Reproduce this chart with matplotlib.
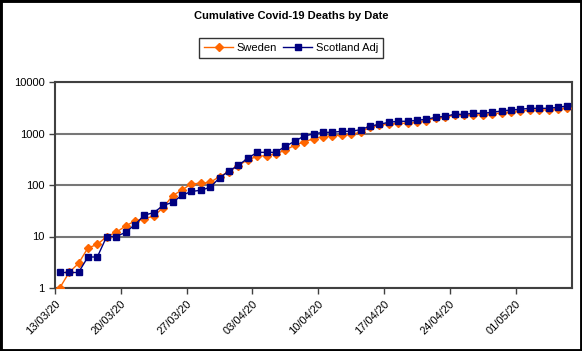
import numpy as np
import matplotlib
matplotlib.use("Agg")
import matplotlib.pyplot as plt
from matplotlib.patches import Rectangle

plt.rcParams["font.family"] = ["Liberation Sans", "DejaVu Sans"]

# ============================================================
# DATA
# ============================================================

dates = [
    "13/03/20", "14/03/20", "15/03/20", "16/03/20", "17/03/20", "18/03/20", "19/03/20",
    "20/03/20", "21/03/20", "22/03/20", "23/03/20", "24/03/20", "25/03/20", "26/03/20",
    "27/03/20", "28/03/20", "29/03/20", "30/03/20", "31/03/20", "01/04/20", "02/04/20",
    "03/04/20", "04/04/20", "05/04/20", "06/04/20", "07/04/20", "08/04/20", "09/04/20",
    "10/04/20", "11/04/20", "12/04/20", "13/04/20", "14/04/20", "15/04/20", "16/04/20",
    "17/04/20", "18/04/20", "19/04/20", "20/04/20", "21/04/20", "22/04/20", "23/04/20",
    "24/04/20", "25/04/20", "26/04/20", "27/04/20", "28/04/20", "29/04/20", "30/04/20",
    "01/05/20", "02/05/20", "03/05/20", "04/05/20", "05/05/20", "06/05/20",
]

sweden = [
    1, 2, 3, 6, 7, 10, 12, 16, 20, 22, 25, 36, 62, 80, 105,
    108, 112, 146, 180, 239, 308, 358, 373, 401, 477, 591, 687, 793, 870, 906,
    919, 964, 1055, 1320, 1443, 1540, 1565, 1590, 1672, 1774, 1973, 2090, 2255, 2270, 2290,
    2318, 2423, 2500, 2650, 2760, 2818, 2860, 2890, 3030, 3120,
]

scotland_adj = [
    2, 2, 2, 4, 4, 10, 10, 12, 17, 26, 29, 40, 46, 63, 75,
    79, 90, 137, 187, 241, 330, 431, 431, 431, 564, 705, 894, 978, 1055, 1055,
    1103, 1103, 1186, 1378, 1508, 1650, 1727, 1727, 1805, 1890, 2062, 2158, 2360, 2360, 2467,
    2467, 2582, 2735, 2860, 2950, 3085, 3085, 3085, 3227, 3420,
]

x = np.arange(len(dates)) + 0.5
tick_pos = np.arange(0, len(dates), 7)
tick_labels = [dates[i] for i in tick_pos]

# ============================================================
# FIGURE
# ============================================================

fig = plt.figure(figsize=(5.82, 3.51), dpi=100)
ax = fig.add_axes([55 / 582, 1 - 288 / 351, 517 / 582, 206 / 351])

ax.plot(x, sweden, color="#FF6600", marker="D", markersize=4,
        linewidth=1, label="Sweden", zorder=3)
ax.plot(x, scotland_adj, color="#000080", marker="s", markersize=5,
        linewidth=1, label="Scotland Adj", zorder=4)

ax.set_yscale("log")
ax.set_ylim(1, 10000)
ax.set_xlim(0, len(dates))

ax.set_yticks([1, 10, 100, 1000, 10000])
ax.set_yticklabels(["1", "10", "100", "1000", "10000"])
ax.yaxis.set_minor_locator(matplotlib.ticker.NullLocator())

ax.set_xticks(tick_pos)
ax.set_xticklabels(tick_labels, rotation=45, ha="right", va="top",
                   rotation_mode="anchor")

ax.tick_params(axis="both", labelsize=8, length=4, width=1,
               color="#404040", direction="out")

ax.grid(axis="y", which="major", color="#777777", linewidth=1.5)
ax.set_axisbelow(True)

for s in ax.spines.values():
    s.set_color("#404040")
    s.set_linewidth(1.5)

# titulo e legenda
fig.text(0.5, 1 - 16 / 351, "Cumulative Covid-19 Deaths by Date",
         ha="center", va="center", fontsize=8, fontweight="bold")

leg = fig.legend(loc="center", bbox_to_anchor=(291 / 582, 1 - 48 / 351),
                 ncol=2, fontsize=8, frameon=True, fancybox=False,
                 handlelength=2.6, columnspacing=0.6, handletextpad=0.3,
                 borderpad=0.45)
leg.get_frame().set_edgecolor("black")
leg.get_frame().set_linewidth(1)

# borda externa
fig.patches.append(Rectangle((0, 0), 1, 1, transform=fig.transFigure,
                             fill=False, edgecolor="black", linewidth=3.5))

fig.savefig("out.png", dpi=100)
plt.close(fig)
